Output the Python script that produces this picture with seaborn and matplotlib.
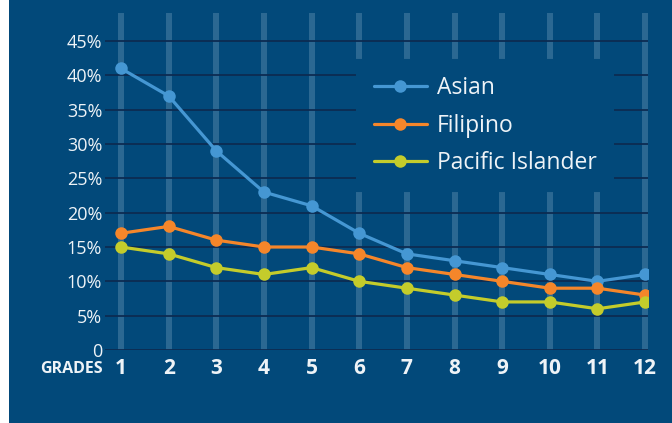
import pandas as pd
import matplotlib.pyplot as plt
import seaborn as sns
from matplotlib.patches import Rectangle

# data (percent)
grades = [1, 2, 3, 4, 5, 6, 7, 8, 9, 10, 11, 12]
asian = [41, 37, 29, 23, 21, 17, 14, 13, 12, 11, 10, 11]
filipino = [17, 18, 16, 15, 15, 14, 12, 11, 10, 9, 9, 8]
pacific = [15, 14, 12, 11, 12, 10, 9, 8, 7, 7, 6, 7]
groups = ["Asian", "Filipino", "Pacific Islander"]
y_ticks = [0, 5, 10, 15, 20, 25, 30, 35, 40, 45]
y_labels = ["0", "5%", "10%", "15%", "20%", "25%", "30%", "35%", "40%", "45%"]

bg = "#02497a"
stripe = "#2b6892"
gridc = "#0c2c52"
txt = "#eef3f7"
colors = ["#4597d3", "#f5862a", "#c4cc2b"]

df = pd.DataFrame({
    "grade": grades * 3,
    "pct": asian + filipino + pacific,
    "group": [g for g in groups for _ in grades],
})

sns.set_style("white")
plt.rcParams["font.family"] = ["Open Sans", "DejaVu Sans"]

fig = plt.figure(figsize=(6.72, 4.23), dpi=100, facecolor="white")
fig.add_artist(Rectangle((9 / 672, 0), 1, 1, transform=fig.transFigure,
                         facecolor=bg, edgecolor="none", zorder=-10))

# axes: x from px 105 to 648, y from px 13 to 350
ax = fig.add_axes([105 / 672, (423 - 350) / 423, 543 / 672, 337 / 423])
ax.patch.set_alpha(0)
ax.set_xlim(0.664, 12.06)
ax.set_ylim(0, 49.08)

# vertical stripes
for g in grades:
    ax.axvspan(g - 0.063, g + 0.063, color=stripe, lw=0, zorder=1)

# horizontal rules
for t in y_ticks:
    ax.axhline(t, color=gridc, lw=1.3, zorder=2)

sns.lineplot(data=df, x="grade", y="pct", hue="group", palette=colors,
             marker="o", markersize=9, markeredgewidth=0, linewidth=2.3,
             ax=ax, zorder=4)

for s in ax.spines.values():
    s.set_visible(False)

ax.set_xticks(grades)
ax.set_xticklabels([str(g) for g in grades], fontsize=15, fontweight="bold", color=txt)
ax.set_yticks(y_ticks)
ax.set_yticklabels(y_labels, fontsize=13, color=txt)
ax.tick_params(axis="both", length=0)
ax.tick_params(axis="x", pad=6)
ax.tick_params(axis="y", pad=2)
ax.set_xlabel("")
ax.set_ylabel("")

ax.text(-0.004, -0.055, "GRADES", transform=ax.transAxes, ha="right", va="center",
        fontsize=11.5, fontweight="bold", color=txt)

handles, labels = ax.get_legend_handles_labels()
leg = ax.legend(handles, labels, loc="upper left", bbox_to_anchor=(252 / 543, (350 - 60) / 337),
                frameon=True, facecolor=bg, edgecolor=bg, framealpha=1,
                fontsize=16.5, labelcolor=txt, handlelength=2.35, handletextpad=0.4,
                labelspacing=0.57, borderpad=0.72, borderaxespad=0)
leg.get_frame().set_boxstyle("square", pad=0)
leg.get_frame().set_linewidth(1.5)
leg.set_zorder(3)

fig.savefig("out.png", dpi=100, facecolor="white")
